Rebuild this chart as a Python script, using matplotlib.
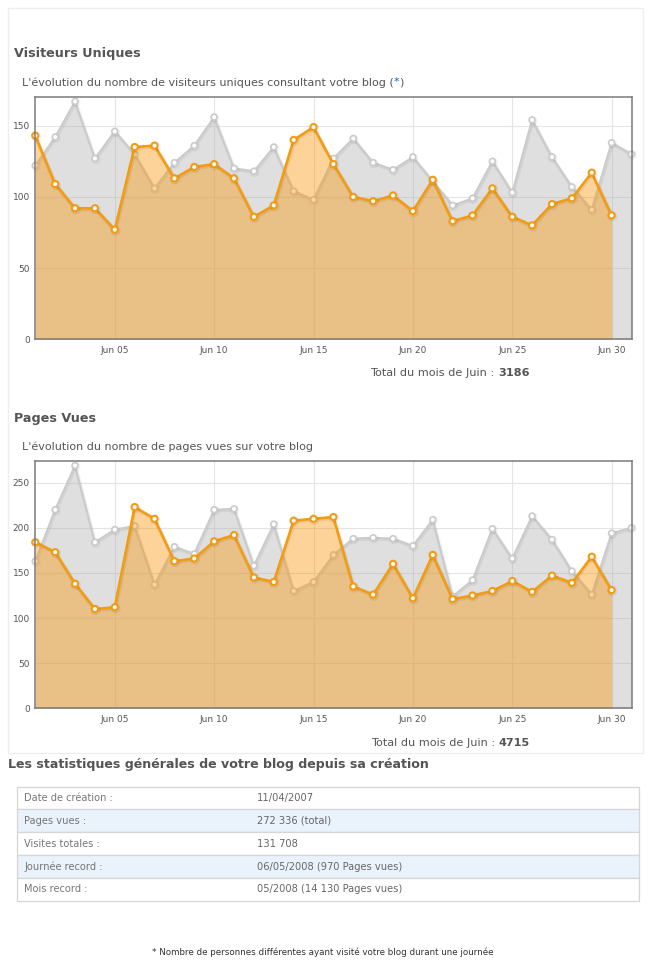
import matplotlib
matplotlib.use('Agg')
import matplotlib.pyplot as plt
from matplotlib.patches import Rectangle
from matplotlib import patheffects as pe

# ---------------- data ----------------
days_prev = list(range(1, 32))
days_june = list(range(1, 31))

uv_prev = [122, 142, 167, 127, 146, 130, 106, 124, 136, 156, 120, 118, 135, 104, 98,
           127, 141, 124, 119, 128, 111, 94, 99, 125, 103, 154, 128, 107, 91, 138, 130]
uv_june = [143, 109, 92, 92, 77, 135, 136, 113, 121, 123, 113, 86, 94, 140, 149,
           123, 100, 97, 101, 90, 112, 83, 87, 106, 86, 80, 95, 99, 117, 87]

pv_prev = [163, 220, 269, 184, 198, 202, 137, 179, 171, 220, 221, 158, 204, 130, 140,
           170, 188, 189, 188, 180, 209, 124, 142, 199, 166, 213, 187, 152, 126, 194, 200]
pv_june = [184, 173, 138, 110, 112, 223, 210, 163, 166, 185, 192, 145, 140, 208, 210,
           212, 135, 126, 160, 122, 170, 121, 125, 130, 141, 129, 147, 139, 168, 131]

xtick_pos = [5, 10, 15, 20, 25, 30]
xtick_labels = ['Jun 05', 'Jun 10', 'Jun 15', 'Jun 20', 'Jun 25', 'Jun 30']
uv_yticks = [0, 50, 100, 150]
pv_yticks = [0, 50, 100, 150, 200, 250]

uv_title = 'Visiteurs Uniques'
uv_sub = "L'évolution du nombre de visiteurs uniques consultant votre blog ("
pv_title = 'Pages Vues'
pv_sub = "L'évolution du nombre de pages vues sur votre blog"
total_label = 'Total du mois de Juin :'
uv_total = '3186'
pv_total = '4715'

stats_title = 'Les statistiques générales de votre blog depuis sa création'
table_labels = ['Date de création :', 'Pages vues :', 'Visites totales :',
                'Journée record :', 'Mois record :']
table_values = ['11/04/2007', '272 336 (total)', '131 708',
                '06/05/2008 (970 Pages vues)', '05/2008 (14 130 Pages vues)']
footnote = '* Nombre de personnes différentes ayant visité votre blog durant une journée'

# ---------------- layout helpers ----------------
W, H = 650, 963
plt.rcParams['font.family'] = ['DejaVu Sans']
fig = plt.figure(figsize=(W / 100, H / 100), dpi=100)
fig.patch.set_facecolor('white')
renderer = fig.canvas.get_renderer()


def fx(x):
    return x / W


def fy(y):
    return 1 - y / H


def runs(x, y, parts, align='left', gap=0.0):
    texts = []
    for s, kw in parts:
        t = fig.text(0, 0, s, ha='left', va='center', **kw)
        texts.append(t)
    widths = [t.get_window_extent(renderer).width for t in texts]
    total = sum(widths) + gap * (len(texts) - 1)
    cur = x if align == 'left' else x - total
    for t, w in zip(texts, widths):
        t.set_position((fx(cur), fy(y)))
        cur += w + gap


# page frame
fig.patches.append(Rectangle((fx(8), fy(753)), (643 - 8) / W, (753 - 8) / H,
                             transform=fig.transFigure, fill=False,
                             edgecolor='#eeeeee', lw=1.0))

ORANGE = '#f39c12'
ORANGE_FILL = '#fa9200'
GREY_LINE = '#cbcbcb'
GREY_FILL = '#b0b0b0'
TXT = '#555555'


def make_chart(top, bottom, prev, june, yticks, ymax):
    ax = fig.add_axes([fx(35.3), fy(bottom), (631.5 - 35.3) / W, (bottom - top) / H])
    ax.set_xlim(1, 31)
    ax.set_ylim(0, ymax)
    ax.set_axisbelow(True)
    ax.grid(True, color='#e4e4e4', lw=0.8)
    ax.set_xticks(xtick_pos)
    ax.set_xticklabels(xtick_labels)
    ax.set_yticks(yticks)
    ax.tick_params(length=0, labelsize=6.5, labelcolor=TXT, pad=4)
    ax.tick_params(axis='x', pad=5)
    for sp in ax.spines.values():
        sp.set_color('#7a7a7a')
        sp.set_linewidth(1.1)
        sp.set_zorder(10)
    ax.fill_between(days_prev, prev, 0, color=GREY_FILL, alpha=0.4, lw=0, zorder=2)
    ax.plot(days_prev, prev, color=GREY_LINE, lw=1.5, marker='o', ms=4.2,
            mfc='white', mec=GREY_LINE, mew=1.2, zorder=3, clip_on=False,
            path_effects=[pe.SimpleLineShadow(offset=(0.5, -0.7), shadow_color='k',
                                              alpha=0.05, linewidth=2.6), pe.Normal()])
    ax.fill_between(days_june, june, 0, color=ORANGE_FILL, alpha=0.4, lw=0, zorder=4)
    ax.plot(days_june, june, color=ORANGE, lw=1.9, marker='o', ms=4.4,
            mfc='white', mec=ORANGE, mew=1.5, zorder=5, clip_on=False,
            path_effects=[pe.SimpleLineShadow(offset=(0.5, -0.7), shadow_color='k',
                                              alpha=0.06, linewidth=3.0), pe.Normal()])
    return ax


# ---------------- chart 1 ----------------
fig.text(fx(14), fy(53), uv_title, ha='left', va='center', fontsize=9.2,
         fontweight='bold', color=TXT)
runs(22, 82.5, [(uv_sub, dict(fontsize=8.0, color=TXT)),
                ('*', dict(fontsize=8.0, color='#2a66c8')),
                (')', dict(fontsize=8.0, color=TXT))])
make_chart(96.7, 339.3, uv_prev, uv_june, uv_yticks, max(uv_prev) * 1.02)
runs(530, 373.5, [(total_label, dict(fontsize=8.1, color=TXT)),
                  (uv_total, dict(fontsize=8.1, color=TXT, fontweight='bold'))],
     align='right', gap=3.8)

# ---------------- chart 2 ----------------
fig.text(fx(14), fy(418), pv_title, ha='left', va='center', fontsize=9.2,
         fontweight='bold', color=TXT)
fig.text(fx(22), fy(447), pv_sub, ha='left', va='center', fontsize=8.0, color=TXT)
make_chart(460.7, 708.3, pv_prev, pv_june, pv_yticks, max(pv_prev) * 1.02)
runs(530, 742.5, [(total_label, dict(fontsize=8.1, color=TXT)),
                  (pv_total, dict(fontsize=8.1, color=TXT, fontweight='bold'))],
     align='right', gap=3.8)

# ---------------- stats table ----------------
fig.text(fx(8), fy(764), stats_title, ha='left', va='center', fontsize=9.1,
         fontweight='bold', color=TXT)
row_edges = [786.7, 809.3, 832.3, 855.0, 878.0, 900.7]
tl, tr = 16.7, 638.5
for i in range(len(table_labels)):
    y0, y1 = row_edges[i], row_edges[i + 1]
    face = '#eaf2fc' if i % 2 == 1 else 'white'
    fig.patches.append(Rectangle((fx(tl), fy(y1)), (tr - tl) / W, (y1 - y0) / H,
                                 transform=fig.transFigure, facecolor=face,
                                 edgecolor='#d6d6d6', lw=0.9))
    yc = (y0 + y1) / 2
    fig.text(fx(24), fy(yc), table_labels[i], ha='left', va='center',
             fontsize=7.1, color='#777777')
    fig.text(fx(257), fy(yc), table_values[i], ha='left', va='center',
             fontsize=7.1, color='#666666')

fig.text(fx(323), fy(952), footnote, ha='center', va='center', fontsize=6.3,
         color='#333333')

fig.savefig('out.png', dpi=100, facecolor='white')
